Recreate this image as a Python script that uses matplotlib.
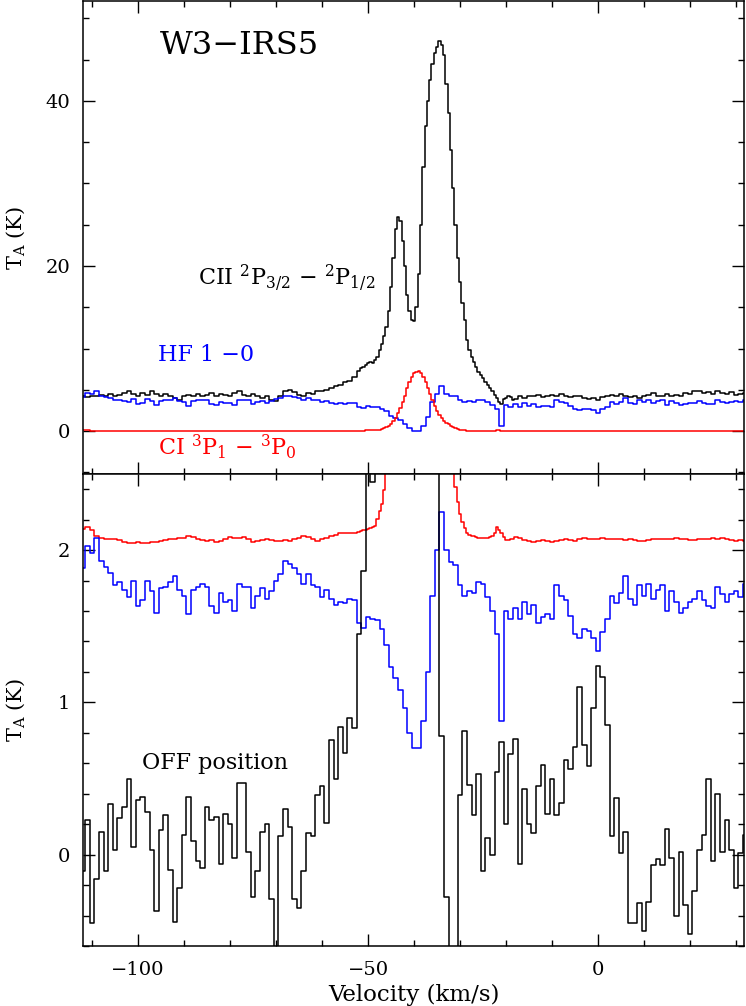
import matplotlib.pyplot as plt
import numpy as np
from matplotlib.ticker import MultipleLocator

plt.rcParams['font.family'] = 'DejaVu Serif'
plt.rcParams['mathtext.fontset'] = 'dejavuserif'

# velocity channels (km/s), 1 km/s wide, -112 .. 32
vel = np.arange(-112, 33)
# finer channels (0.5 km/s) across the line core, used for CII and CI
vel_fine = np.concatenate([np.arange(-112, -52), np.arange(-52, -17.9, 0.5),
                           np.arange(-17, 33)])

# CII 2P3/2-2P1/2 (K), top panel, on vel_fine
cii = [4.2, 4.1, 4.3, 4.2, 4.4, 4.3, 4.5, 4.3, 4.4, 4.6,
       4.9, 4.5, 4.3, 4.6, 4.4, 4.8, 4.5, 4.3, 4.5, 4.2,
       4.0, 3.8, 4.2, 4.4, 4.3, 4.5, 4.2, 4.4, 4.6, 4.3,
       4.5, 4.4, 4.2, 4.6, 4.8, 4.4, 4.3, 4.5, 4.2, 4.0,
       4.3, 3.8, 3.7, 4.3, 4.8, 5.0, 4.7, 4.4, 4.3, 4.6,
       4.5, 4.8, 4.9, 5.0, 5.2, 5.4, 5.6, 5.9, 6.1, 6.6,
       # -52 .. -18 in 0.5 km/s steps
       7.3, 7.6, 7.8, 8.0, 8.2, 8.4, 8.2, 8.6, 9.0, 9.8,
       10.6, 11.5, 12.6, 14.5, 17.5, 21.0, 24.5, 25.9, 25.5, 23.0,
       20.0, 16.5, 14.5, 13.5, 13.3, 15.0, 19.0, 25.0, 32.0, 37.0,
       40.0, 42.5, 44.5, 45.8, 46.5, 47.2, 46.8, 45.5, 42.0, 38.5,
       34.0, 29.5, 25.0, 21.0, 18.0, 15.5, 13.5, 11.0, 9.8, 9.0,
       8.4, 7.8, 7.2, 6.8, 6.4, 6.0, 5.6, 5.2, 4.8, 4.4,
       4.0, 3.5, 3.3, 3.9, 4.0, 4.2, 4.1, 3.8, 3.9,
       # -17 .. 32
       4.2, 4.0, 4.3, 4.2, 4.4,
       4.1, 4.3, 4.4, 4.2, 4.5, 4.3, 4.1, 4.3, 4.2, 4.0,
       3.9, 4.0, 3.8, 4.1, 4.3, 4.4, 4.2, 4.5, 4.3, 4.1,
       4.3, 4.0, 4.2, 4.4, 4.6, 4.2, 4.3, 4.5, 4.2, 4.4,
       4.3, 4.6, 4.5, 4.8, 4.9, 4.6, 4.7, 4.5, 4.8, 4.6,
       4.5, 4.7, 4.4, 4.5, 4.6]

# CI 3P1-3P0 (K), on vel_fine
ci = [0.075, 0.085, 0.065, 0.025, 0.015, 0.01, 0.005, 0.005, 0.0, -0.01,
      -0.015, -0.015, -0.01, -0.015, -0.015, -0.01, -0.01, -0.005, 0.0, 0.005,
      0.01, 0.015, 0.015, 0.025, 0.02, 0.01, 0.0, -0.005, 0.0, -0.01,
      -0.005, 0.005, 0.02, 0.015, 0.015, 0.02, 0.005, -0.01, -0.005, 0.0,
      0.005, 0.0, -0.005, -0.005, 0.0, -0.005, 0.005, 0.015, 0.025, 0.02,
      0.005, -0.005, 0.005, 0.015, 0.025, 0.035, 0.045, 0.045, 0.045, 0.045,
      # -52 .. -18 in 0.5 km/s steps
      0.055, 0.06, 0.065, 0.07, 0.075, 0.08, 0.085, 0.095, 0.14, 0.19,
      0.24, 0.33, 0.45, 0.6, 0.8, 1.2, 1.6, 2.2, 2.8, 3.5,
      4.2, 5.2, 5.9, 6.5, 7.0, 7.2, 7.3, 7.0, 6.5, 5.9,
      5.2, 4.5, 3.8, 3.0, 2.4, 2.0, 1.6, 1.25, 1.0, 0.8,
      0.6, 0.45, 0.35, 0.25, 0.17, 0.12, 0.08, 0.05, 0.035, 0.03,
      0.025, 0.02, 0.015, 0.015, 0.015, 0.015, 0.015, 0.02, 0.025, 0.05,
      0.085, 0.07, 0.045, 0.02, 0.0, 0.0, 0.005, 0.01, 0.02,
      # -17 .. 32
      0.015, 0.0, -0.005, -0.01, -0.005,
      0.0, -0.005, -0.01, -0.005, 0.0, 0.005, 0.0, -0.005, 0.005, 0.015,
      0.005, 0.005, 0.01, 0.015, 0.01, 0.005, 0.01, 0.005, 0.0, 0.005,
      0.0, -0.005, -0.005, 0.0, 0.005, 0.005, 0.01, 0.005, 0.01, 0.015,
      0.01, 0.005, 0.0, 0.0, 0.005, 0.005, 0.01, 0.015, 0.01, 0.015,
      0.01, 0.0, -0.005, 0.0, -0.005]

# HF 1-0, as drawn in the lower panel (offset/scaled display), on vel
hf_low = [1.88, 2.03, 1.98, 2.08, 1.93, 1.89, 1.85, 1.77, 1.79, 1.74,
          1.69, 1.80, 1.63, 1.67, 1.80, 1.73, 1.59, 1.75, 1.76, 1.79,
          1.83, 1.74, 1.70, 1.58, 1.74, 1.76, 1.78, 1.76, 1.63, 1.59,
          1.72, 1.66, 1.67, 1.60, 1.78, 1.76, 1.76, 1.62, 1.70, 1.75,
          1.68, 1.73, 1.80, 1.84, 1.93, 1.91, 1.88, 1.84, 1.78, 1.84,
          1.77, 1.76, 1.69, 1.74, 1.68, 1.64, 1.66, 1.65, 1.68, 1.67,
          1.52, 1.49, 1.56, 1.55, 1.54, 1.48, 1.38, 1.23, 1.16, 1.08,
          0.96, 0.80, 0.70, 0.70, 0.88, 1.20, 1.70, 2.00, 2.25, 2.00,
          1.92, 1.90, 1.77, 1.70, 1.73, 1.72, 1.79, 1.78, 1.69, 1.60,
          1.45, 0.88, 1.60, 1.55, 1.62, 1.55, 1.66, 1.58, 1.64, 1.52,
          1.56, 1.58, 1.55, 1.77, 1.70, 1.67, 1.57, 1.45, 1.42, 1.48,
          1.47, 1.42, 1.34, 1.46, 1.55, 1.70, 1.65, 1.72, 1.83, 1.68,
          1.64, 1.77, 1.70, 1.78, 1.68, 1.74, 1.77, 1.60, 1.73, 1.66,
          1.59, 1.62, 1.66, 1.68, 1.73, 1.67, 1.63, 1.62, 1.76, 1.71,
          1.66, 1.71, 1.73, 1.69, 1.78]

# OFF position spectrum (K), on vel
off = [-0.11, 0.23, -0.45, -0.16, 0.15, -0.11, 0.33, 0.03, 0.24, 0.31,
       0.50, 0.05, 0.36, 0.38, 0.28, 0.03, -0.37, 0.16, 0.26, -0.10,
       -0.44, -0.22, 0.13, 0.38, 0.09, -0.04, -0.09, 0.31, 0.23, 0.25,
       -0.06, 0.27, 0.20, -0.02, 0.47, 0.47, 0.02, -0.28, -0.11, 0.15,
       0.20, -0.29, -0.65, 0.12, 0.30, 0.18, -0.29, -0.35, -0.11, 0.14,
       0.12, 0.39, 0.45, 0.21, 0.75, 0.50, 0.84, 0.67, 0.90, 0.83,
       1.45, 1.86, 3.0, 2.45, 3.5, 4.0, 4.5, 5.0, 5.5, 6.0,
       6.0, 6.0, 6.0, 6.0, 5.5, 5.0, 4.5, 3.5, 0.78, -0.28,
       -1.5, -1.2, 0.39, 0.81, 0.46, 0.26, 0.53, -0.11, 0.11, 0.0,
       0.54, 0.74, 0.20, 0.66, 0.76, -0.06, 0.43, 0.20, 0.14, 0.45,
       0.59, 0.27, 0.50, 0.26, 0.34, 0.62, 0.56, 0.71, 1.10, 0.72,
       0.58, 0.96, 1.24, 1.17, 0.85, 0.12, 0.37, 0.01, 0.15, -0.45,
       -0.45, -0.32, -0.50, -0.31, -0.07, -0.03, -0.07, 0.17, -0.02, -0.40,
       0.02, -0.33, -0.52, -0.24, 0.03, 0.13, 0.50, -0.04, 0.40, 0.02,
       0.23, 0.03, -0.22, 0.01, 0.13]

hf_low = np.array(hf_low)
ci = np.array(ci)
hf_top = (hf_low - 0.7) * 3.5   # HF in K for the upper panel
ci_low = ci + 2.065              # CI shifted for the lower panel

fig = plt.figure(figsize=(7.46, 10.06), dpi=100)
ax1 = fig.add_axes([83/746, 1 - 474/1006, 661/746, 473/1006])
ax2 = fig.add_axes([83/746, 1 - 946/1006, 661/746, 472/1006])

lw = 1.1
ax1.step(vel_fine, cii, where='mid', color='k', lw=lw)
ax1.step(vel, hf_top, where='mid', color='#0000ff', lw=lw)
ax1.step(vel_fine, ci, where='mid', color='#ff0000', lw=lw)

ax2.step(vel_fine, ci_low, where='mid', color='#ff0000', lw=lw)
ax2.step(vel, hf_low, where='mid', color='#0000ff', lw=lw)
ax2.step(vel, off, where='mid', color='k', lw=lw)

ax1.set_ylim(-5.2, 52.1)
ax2.set_ylim(-0.6, 2.5)
for ax in (ax1, ax2):
    ax.set_xlim(-112, 31.7)
    ax.xaxis.set_major_locator(MultipleLocator(50))
    ax.xaxis.set_minor_locator(MultipleLocator(10))
    ax.tick_params(which='both', direction='in', top=True, right=True,
                   width=1.0, labelsize=14)
    ax.tick_params(which='major', length=8.5)
    ax.tick_params(which='minor', length=4.5)
    ax.tick_params(axis='y', pad=9)
    ax.tick_params(axis='x', pad=11)
    for s in ax.spines.values():
        s.set_linewidth(1.1)
    ax.set_ylabel(r'T$_{\rm A}$ (K)', fontsize=15)
    ax.yaxis.set_label_coords(-0.084, 0.5)

ax1.yaxis.set_major_locator(MultipleLocator(20))
ax1.yaxis.set_minor_locator(MultipleLocator(5))
ax2.yaxis.set_major_locator(MultipleLocator(1))
ax2.yaxis.set_minor_locator(MultipleLocator(0.2))
ax1.tick_params(labelbottom=False)
ax2.set_xlabel('Velocity (km/s)', fontsize=16.5, labelpad=3)

ax1.text(-95.2, 46.7, 'W3\u2212IRS5', fontsize=23, ha='left', va='center')
ax1.text(-87.0, 18.6, r'CII $^2$P$_{3/2}$ $-$ $^2$P$_{1/2}$', fontsize=16,
         ha='left', va='center')
ax1.text(-95.7, 9.2, 'HF 1 \u22120', fontsize=16, color='#0000ff',
         ha='left', va='center')
ax1.text(-95.7, -1.9, r'CI $^3$P$_1$ $-$ $^3$P$_0$', fontsize=16,
         color='#ff0000', ha='left', va='center')
ax2.text(-99.2, 0.60, 'OFF position', fontsize=16, ha='left', va='center')

fig.savefig('out.png', dpi=100)
